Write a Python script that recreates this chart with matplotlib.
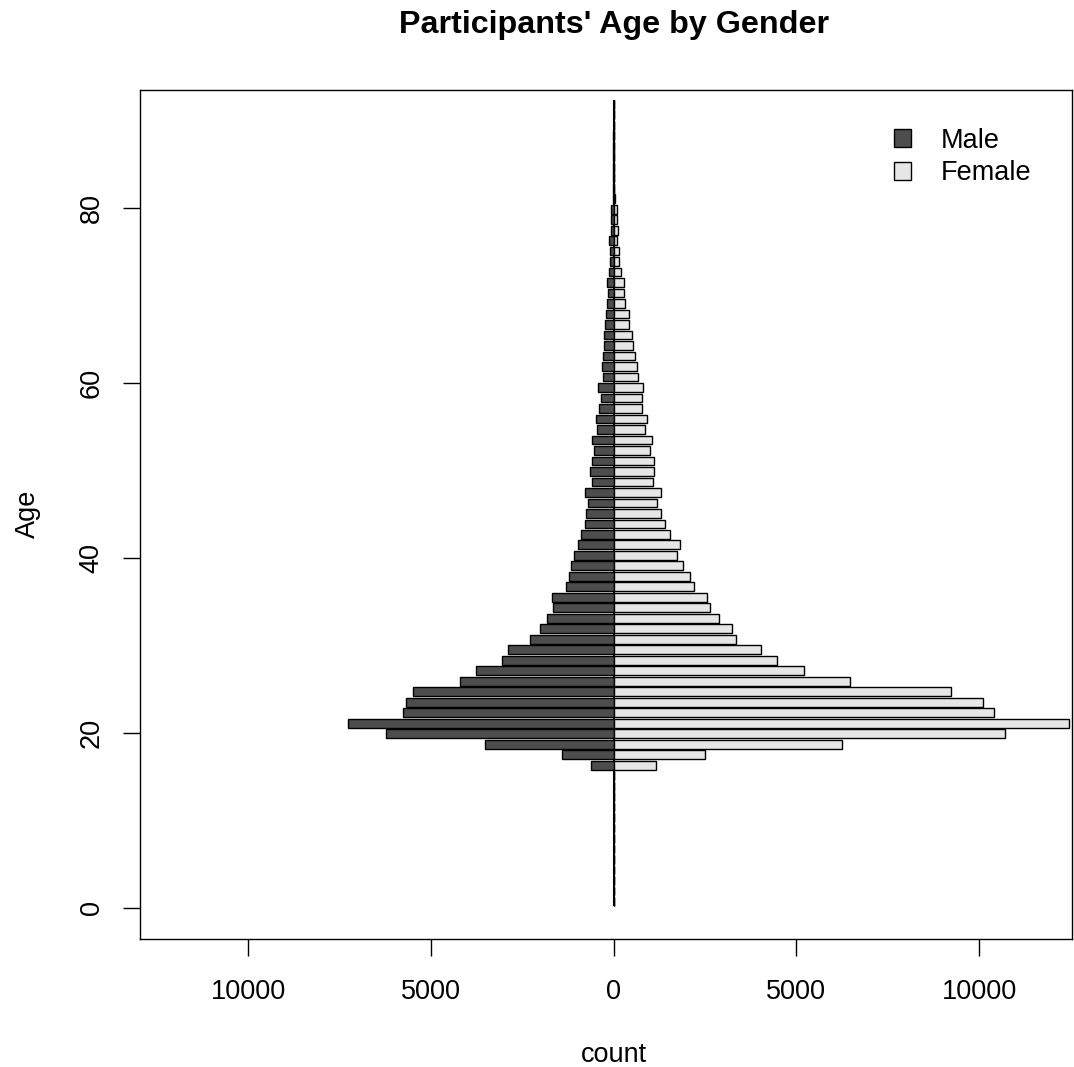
import matplotlib
matplotlib.use("Agg")
import matplotlib.pyplot as plt
import numpy as np
from matplotlib.patches import Patch

plt.rcParams.update({
    "font.family": ["Liberation Sans", "DejaVu Sans"],
    "font.size": 19.5,
})

# bar index 0..76 (77 age groups), first 13 are empty
male = [0] * 13 + [
    630, 1407, 3514, 6240, 7280, 5759, 5693, 5493, 4198, 3760,
    3065, 2901, 2282, 2009, 1826, 1661, 1690, 1305, 1223, 1168,
    1087, 977, 903, 776, 749, 703, 785, 602, 657, 584,
    539, 593, 457, 484, 402, 347, 434, 301, 328, 292,
    274, 265, 229, 219, 192, 164, 192, 120, 100, 93,
    120, 74, 82, 64, 30, 22, 18, 14, 10, 8,
    6, 4, 3, 2,
]
female = [0] * 13 + [
    1158, 2499, 6240, 10702, 12470, 10417, 10116, 9240, 6468, 5209,
    4461, 4032, 3347, 3247, 2874, 2628, 2545, 2207, 2097, 1906,
    1733, 1824, 1550, 1413, 1286, 1177, 1286, 1067, 1095, 1104,
    1003, 1058, 866, 903, 766, 775, 816, 657, 639, 593,
    538, 493, 428, 411, 319, 283, 292, 192, 155, 137,
    100, 118, 82, 82, 28, 22, 18, 14, 10, 8,
    6, 4, 3, 2,
]

male = np.array(male)
female = np.array(female)
idx = np.arange(len(male))
ypos = 0.7 + 1.2 * idx  # barplot-style positions (width 1, space 0.2)

col_male = "#4D4D4D"
col_female = "#E6E6E6"

fig = plt.figure(figsize=(10.74, 10.67), dpi=100)
ax = fig.add_axes([0.1301, 0.1200, 0.9981 - 0.1301, 0.9154 - 0.1200])

# centre line where the bar borders meet
ax.vlines(0, ypos[0] - 0.5, ypos[-1] + 0.5, color="black", linewidth=1.5, zorder=1)
ax.barh(ypos, -male, height=1.0, color=col_male, edgecolor="black", linewidth=1.0, zorder=2)
ax.barh(ypos, female, height=1.0, color=col_female, edgecolor="black", linewidth=1.0, zorder=2)

ax.set_xlim(-12973, 12544)
ax.set_ylim(-3.58, 93.5)

xt = [-10000, -5000, 0, 5000, 10000]
ax.set_xticks(xt)
ax.set_xticklabels([str(abs(v)) for v in xt])
ax.set_yticks([0, 20, 40, 60, 80])
ax.set_yticklabels(["0", "20", "40", "60", "80"], rotation=90, va="center")

for s in ax.spines.values():
    s.set_linewidth(1.0)
ax.tick_params(axis="both", length=12.2, width=1.0)
ax.tick_params(axis="x", pad=16.5)
ax.tick_params(axis="y", pad=13)

fig.text(613.7 / 1074, 1 - 1055 / 1067, "count", ha="center", va="center", fontsize=19.5)
fig.text(28 / 1074, 1 - 514 / 1067, "Age", ha="center", va="center", rotation=90, fontsize=19.5)
fig.text(613.7 / 1074, 1 - 25 / 1067, "Participants' Age by Gender", ha="center", va="center",
         fontsize=23.2, fontweight="bold")

handles = [Patch(facecolor=col_male, edgecolor="black", linewidth=1.0),
           Patch(facecolor=col_female, edgecolor="black", linewidth=1.0)]
fig.legend(handles, ["Male", "Female"], loc="upper left",
           bbox_to_anchor=(880 / 1074, 1 - 114 / 1067), frameon=False,
           handlelength=0.65, handleheight=0.65, handletextpad=1.1,
           labelspacing=0.25, borderpad=0, fontsize=19.5)

fig.savefig("out.png", dpi=100)
